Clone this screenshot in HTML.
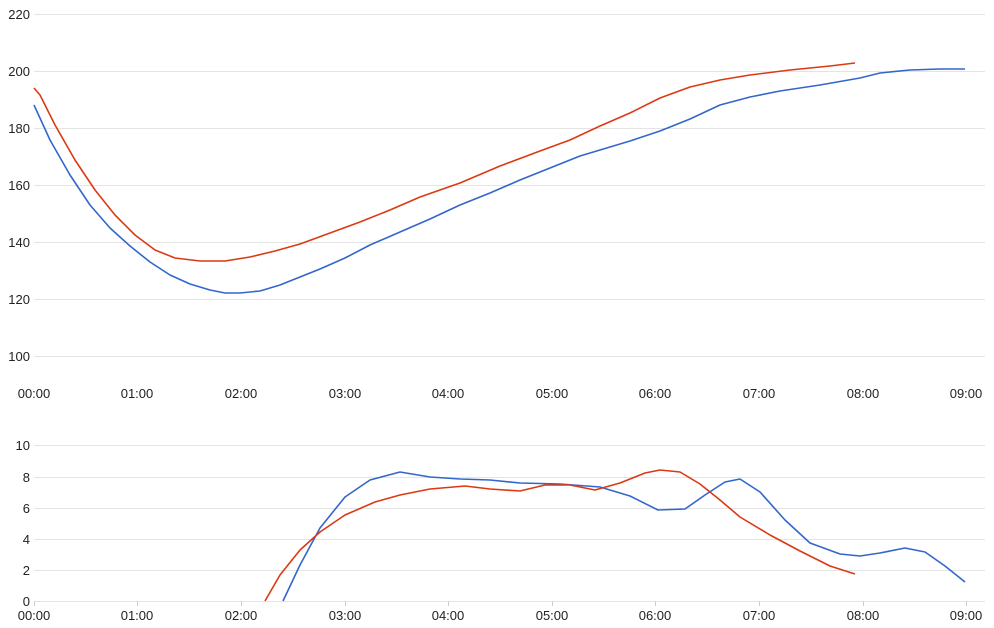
<!DOCTYPE html>
<html><head><style>body{margin:0;background:#fff}svg{display:block}text{font-family:"Liberation Sans",Arial,sans-serif;font-size:13px;fill:#222}</style></head><body>
<svg width="994" height="628" viewBox="0 0 994 628">
<g stroke="#e4e4e4" stroke-width="1">
<line x1="34" x2="985" y1="14.5" y2="14.5"/><line x1="34" x2="985" y1="71.5" y2="71.5"/><line x1="34" x2="985" y1="128.5" y2="128.5"/><line x1="34" x2="985" y1="185.5" y2="185.5"/><line x1="34" x2="985" y1="242.5" y2="242.5"/><line x1="34" x2="985" y1="299.5" y2="299.5"/><line x1="34" x2="985" y1="356.5" y2="356.5"/>
<line x1="34" x2="985" y1="445.5" y2="445.5"/><line x1="34" x2="985" y1="477.5" y2="477.5"/><line x1="34" x2="985" y1="508.5" y2="508.5"/><line x1="34" x2="985" y1="539.5" y2="539.5"/><line x1="34" x2="985" y1="570.5" y2="570.5"/><line x1="34" x2="985" y1="601.5" y2="601.5"/>
</g>
<g stroke="#ccc"><line x1="34.5" x2="34.5" y1="601" y2="606"/><line x1="137.5" x2="137.5" y1="601" y2="606"/><line x1="241.5" x2="241.5" y1="601" y2="606"/><line x1="345.5" x2="345.5" y1="601" y2="606"/><line x1="448.5" x2="448.5" y1="601" y2="606"/><line x1="552.5" x2="552.5" y1="601" y2="606"/><line x1="655.5" x2="655.5" y1="601" y2="606"/><line x1="759.5" x2="759.5" y1="601" y2="606"/><line x1="863.5" x2="863.5" y1="601" y2="606"/><line x1="966.5" x2="966.5" y1="601" y2="606"/></g>
<g text-anchor="end"><text x="30" y="19">220</text><text x="30" y="76">200</text><text x="30" y="133">180</text><text x="30" y="190">160</text><text x="30" y="247">140</text><text x="30" y="304">120</text><text x="30" y="361">100</text>
<text x="30" y="450">10</text><text x="30" y="482">8</text><text x="30" y="513">6</text><text x="30" y="544">4</text><text x="30" y="575">2</text><text x="30" y="606">0</text></g>
<g text-anchor="middle"><text x="34" y="398">00:00</text><text x="137" y="398">01:00</text><text x="241" y="398">02:00</text><text x="345" y="398">03:00</text><text x="448" y="398">04:00</text><text x="552" y="398">05:00</text><text x="655" y="398">06:00</text><text x="759" y="398">07:00</text><text x="863" y="398">08:00</text><text x="966" y="398">09:00</text>
<text x="34" y="620">00:00</text><text x="137" y="620">01:00</text><text x="241" y="620">02:00</text><text x="345" y="620">03:00</text><text x="448" y="620">04:00</text><text x="552" y="620">05:00</text><text x="655" y="620">06:00</text><text x="759" y="620">07:00</text><text x="863" y="620">08:00</text><text x="966" y="620">09:00</text></g>
<g fill="none" stroke-width="1.6" stroke-linejoin="round">
<polyline stroke="#3366cc" points="34,105 50,140 70,175 90,205 110,228 130,246 150,262 170,275 190,284 210,290 225,293 240,293 260,291 280,285 300,277 320,269 345,258 370,245 400,232 430,219 460,205 490,193 520,180 550,168 580,156 610,147 630,141 660,131 690,119 720,105 750,97 780,91 820,85 860,78 880,73 910,70 940,69 965,69"/>
<polyline stroke="#dc3912" points="34,88 40,95 55,125 75,160 95,190 115,215 135,235 155,250 175,258 200,261 225,261 250,257 275,251 300,244 330,233 360,222 390,210 420,197 460,183 500,166 540,151 570,140 600,126 630,113 660,98 690,87 720,80 750,75 790,70 830,66 855,63"/>
<polyline stroke="#3366cc" points="283,601 300,565 320,528 345,497 370,480 400,472 430,477 460,479 490,480 520,483 560,484 600,487 630,496 658,510 685,509 705,495 725,482 740,479 760,492 785,520 810,543 840,554 860,556 880,553 905,548 925,552 945,566 965,582"/>
<polyline stroke="#dc3912" points="265,601 280,575 300,550 320,532 345,515 375,502 400,495 430,489 465,486 490,489 520,491 545,485 570,485 595,490 620,483 645,473 660,470 680,472 700,484 720,500 740,517 770,535 800,551 830,566 855,574"/>
</g>
</svg>
</body></html>
